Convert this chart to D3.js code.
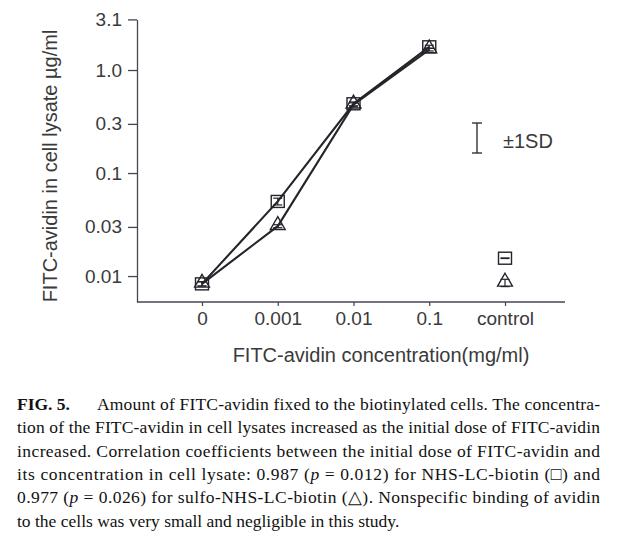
<!DOCTYPE html>
<html>
<head>
<meta charset="utf-8">
<script src="https://cdn.jsdelivr.net/npm/d3@7/dist/d3.min.js"></script>
<style>
  body { margin: 0; background: #fff; }
  svg { display: block; }
</style>
</head>
<body>
<div id="output"></div>
<script>
// doses on the x axis (last one is the control, not joined to the lines)
var doses = ["0", "0.001", "0.01", "0.1", "control"];
// FITC-avidin in cell lysate, ug/ml
var nhsValues = [0.0084, 0.053, 0.47, 1.68, 0.0149];     // squares
var sulfoValues = [0.0084, 0.0305, 0.46, 1.58, 0.0086];  // triangles
var nhsSD = [0.0004, 0.004, 0.02, 0.06, 0.0001];
var sulfoSD = [0.0004, 0.001, 0.02, 0.05, 0.0007];
var yTicks = [0.01, 0.03, 0.1, 0.3, 1.0, 3.1];
var yTickLabels = ["0.01", "0.03", "0.1", "0.3", "1.0", "3.1"];

var captionLines = [
  "Amount of FITC-avidin fixed to the biotinylated cells. The concentra-",
  "tion of the FITC-avidin in cell lysates increased as the initial dose of FITC-avidin",
  "increased. Correlation coefficients between the initial dose of FITC-avidin and",
  null,
  null,
  "to the cells was very small and negligible in this study."
];

var ink = "#26232b";
var axisInk = "#4a4352";
var sans = "'Liberation Sans', Arial, Helvetica, sans-serif";
var serif = "'Liberation Serif', 'Times New Roman', serif";

var svg = d3.select("#output").append("svg")
  .attr("width", 640)
  .attr("height", 545);

var x = d3.scalePoint().domain(doses).range([202, 505]);
var y = d3.scaleLog().domain([0.0056, 3.1]).range([302, 19.4]);

// y axis
var yAxis = svg.append("g")
  .attr("transform", "translate(137,0)")
  .call(d3.axisLeft(y)
    .tickValues(yTicks)
    .tickFormat(function (d, i) { return yTickLabels[i]; })
    .tickSize(9)
    .tickSizeOuter(0)
    .tickPadding(6));
yAxis.select(".domain").attr("stroke", axisInk).attr("stroke-width", 1.3);
yAxis.selectAll(".tick line").attr("stroke", axisInk).attr("stroke-width", 1.3);
yAxis.selectAll("text")
  .style("font-family", sans)
  .style("font-size", "19px")
  .attr("fill", "#3a3a3a");

// x axis
var xAxis = svg.append("g")
  .attr("transform", "translate(0,302)")
  .call(d3.axisBottom(x).tickSize(4).tickSizeOuter(0).tickPadding(5.5));
xAxis.select(".domain").remove();
xAxis.selectAll(".tick line").attr("stroke", axisInk).attr("stroke-width", 1.2);
xAxis.selectAll("text")
  .style("font-family", sans)
  .style("font-size", "19px")
  .attr("fill", "#3a3a3a");
svg.append("line")
  .attr("x1", 137).attr("x2", 565)
  .attr("y1", 302).attr("y2", 302)
  .attr("stroke", axisInk)
  .attr("stroke-width", 1.3);

// axis titles
svg.append("text")
  .attr("transform", "translate(57,166) rotate(-90)")
  .attr("text-anchor", "middle")
  .style("font-family", sans)
  .style("font-size", "20px")
  .attr("fill", "#3a3a3a")
  .text("FITC-avidin in cell lysate \u00b5g/ml");

svg.append("text")
  .attr("x", 381)
  .attr("y", 362)
  .attr("text-anchor", "middle")
  .style("font-family", sans)
  .style("font-size", "20px")
  .attr("fill", "#3a3a3a")
  .text("FITC-avidin concentration(mg/ml)");

// lines (dose points only, not control)
var line = d3.line()
  .x(function (d) { return x(d.dose); })
  .y(function (d) { return y(d.value); });

function series(values, sd) {
  return doses.map(function (dose, i) {
    return {dose: dose, value: values[i], sd: sd[i]};
  });
}
var nhs = series(nhsValues, nhsSD);
var sulfo = series(sulfoValues, sulfoSD);

[nhs, sulfo].forEach(function (s) {
  svg.append("path")
    .datum(s.filter(function (d) { return d.dose !== "control"; }))
    .attr("d", line)
    .attr("fill", "none")
    .attr("stroke", ink)
    .attr("stroke-width", 2.1);
});

// error bars
function errorBars(s) {
  var g = svg.append("g").attr("stroke", ink).attr("stroke-width", 1.2);
  s.forEach(function (d) {
    var cx = x(d.dose);
    var y1 = y(d.value + d.sd), y2 = y(d.value - d.sd);
    g.append("line").attr("x1", cx).attr("x2", cx).attr("y1", y1).attr("y2", y2);
    g.append("line").attr("x1", cx - 4.5).attr("x2", cx + 4.5).attr("y1", y1).attr("y2", y1);
    g.append("line").attr("x1", cx - 4.5).attr("x2", cx + 4.5).attr("y1", y2).attr("y2", y2);
  });
}
errorBars(nhs);
errorBars(sulfo);

// markers
svg.selectAll(".sq")
  .data(nhs)
  .enter().append("rect")
  .attr("class", "sq")
  .attr("x", function (d) { return x(d.dose) - 6.5; })
  .attr("y", function (d) { return y(d.value) - 6; })
  .attr("width", 13)
  .attr("height", 12)
  .attr("fill", "none")
  .attr("stroke", ink)
  .attr("stroke-width", 1.4);

var tri = d3.symbol().type(d3.symbolTriangle).size(95);
svg.selectAll(".tri")
  .data(sulfo)
  .enter().append("path")
  .attr("class", "tri")
  .attr("d", tri)
  .attr("transform", function (d) {
    return "translate(" + x(d.dose) + "," + (y(d.value) - 1) + ")";
  })
  .attr("fill", "none")
  .attr("stroke", ink)
  .attr("stroke-width", 1.4);

// +-1SD key
var key = svg.append("g").attr("stroke", ink).attr("stroke-width", 1.3);
key.append("line").attr("x1", 477).attr("x2", 477).attr("y1", 123).attr("y2", 153);
key.append("line").attr("x1", 472).attr("x2", 482).attr("y1", 123).attr("y2", 123);
key.append("line").attr("x1", 472).attr("x2", 482).attr("y1", 153).attr("y2", 153);
svg.append("text")
  .attr("x", 503)
  .attr("y", 148)
  .style("font-family", sans)
  .style("font-size", "20px")
  .attr("fill", "#3a3a3a")
  .text("\u00b11SD");

// caption
var cap = svg.append("g")
  .style("font-family", serif)
  .style("font-size", "17.5px")
  .attr("fill", "#111");
var base = 410, lead = 23.3;

cap.append("text")
  .attr("x", 17).attr("y", base)
  .style("font-weight", "bold")
  .text("FIG. 5.");
cap.append("text")
  .attr("x", 97).attr("y", base)
  .attr("textLength", 503)
  .attr("lengthAdjust", "spacing")
  .text(captionLines[0]);

[1, 2].forEach(function (i) {
  cap.append("text")
    .attr("x", 17).attr("y", base + lead * i)
    .attr("textLength", 583)
    .attr("lengthAdjust", "spacing")
    .text(captionLines[i]);
});

var l4 = cap.append("text")
  .attr("x", 17).attr("y", base + lead * 3)
  .attr("textLength", 583)
  .attr("lengthAdjust", "spacing");
l4.append("tspan").text("its concentration in cell lysate: 0.987 (");
l4.append("tspan").style("font-style", "italic").text("p");
l4.append("tspan").text(" = 0.012) for NHS-LC-biotin (\u25a1) and");

var l5 = cap.append("text")
  .attr("x", 17).attr("y", base + lead * 4)
  .attr("textLength", 583)
  .attr("lengthAdjust", "spacing");
l5.append("tspan").text("0.977 (");
l5.append("tspan").style("font-style", "italic").text("p");
l5.append("tspan").text(" = 0.026) for sulfo-NHS-LC-biotin (\u25b3). Nonspecific binding of avidin");

cap.append("text")
  .attr("x", 17).attr("y", base + lead * 5)
  .text(captionLines[5]);
</script>
</body>
</html>
